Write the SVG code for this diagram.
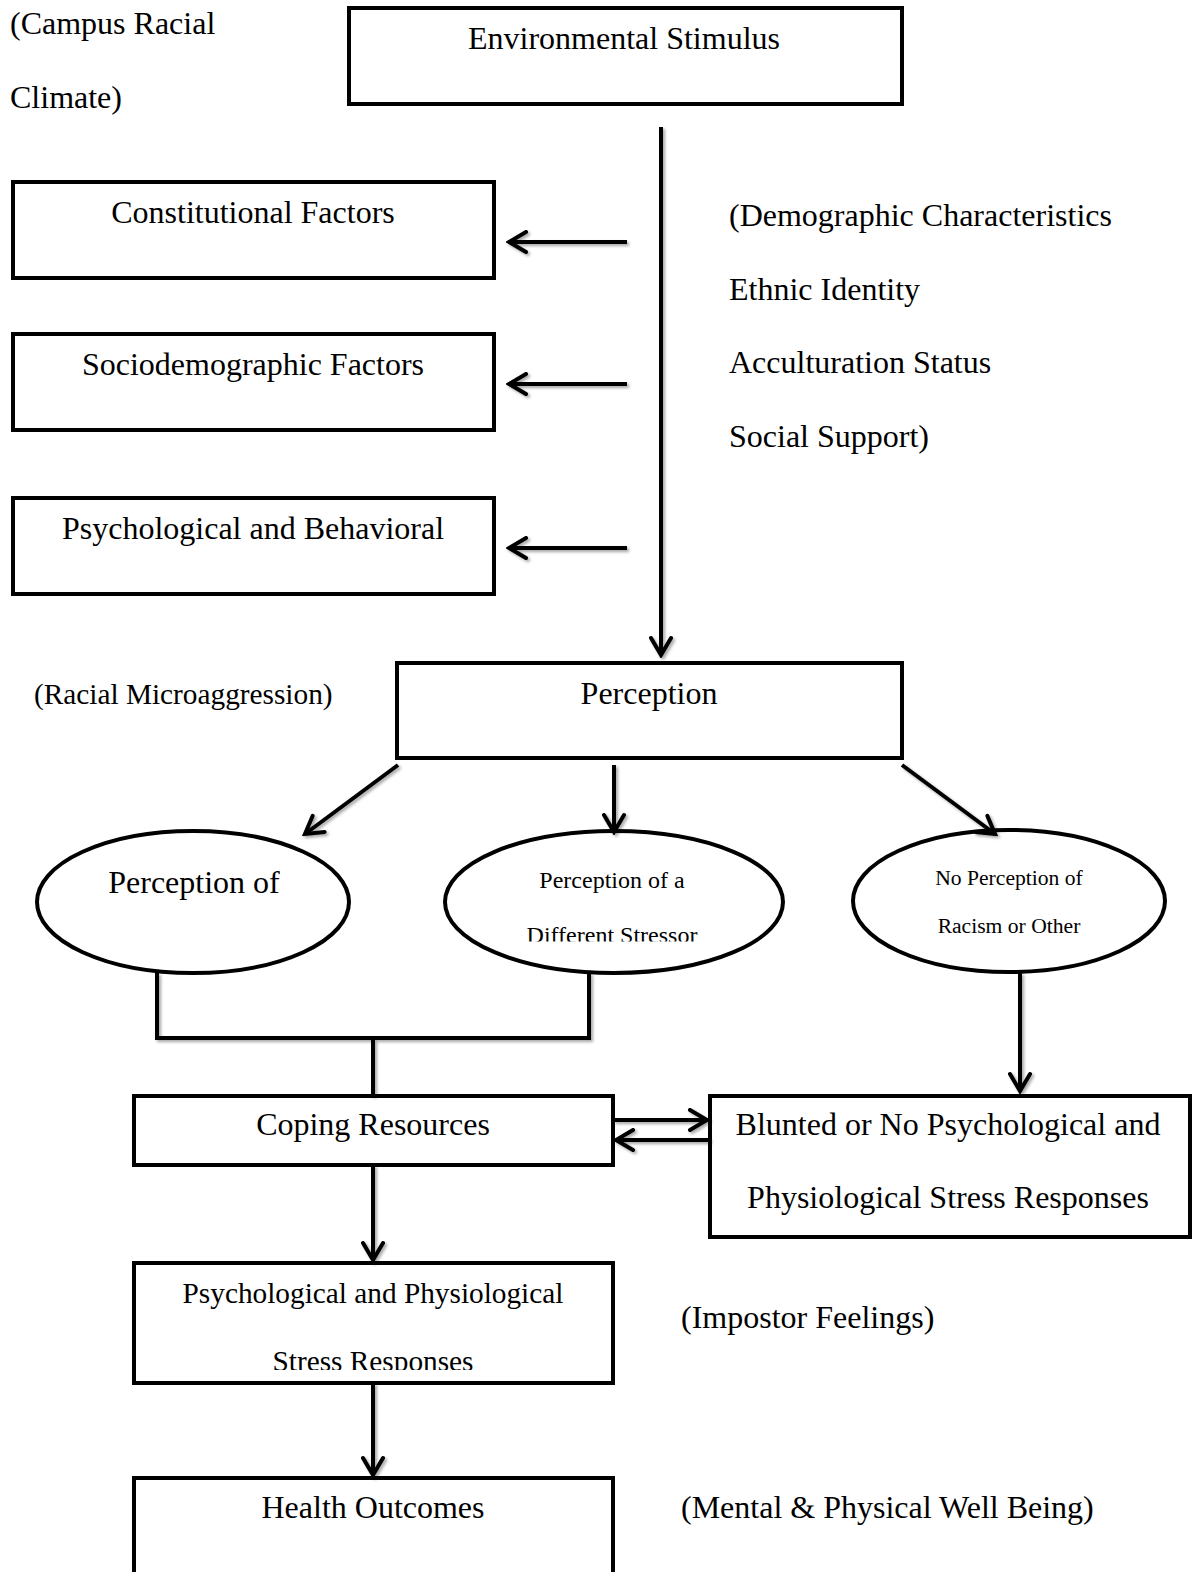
<svg xmlns="http://www.w3.org/2000/svg" width="1192" height="1572" viewBox="0 0 1192 1572">
<style>
  text { font-family: "Liberation Serif", "Times New Roman", serif; fill: #000; }
  .t { font-size: 32px; }
  .m { font-size: 29.3px; }
  .c { text-anchor: middle; }
  .s1 { font-size: 24px; }
  .s2 { font-size: 21.6px; }
  .box { fill: #fff; stroke: #000; stroke-width: 4; }
  .conn { fill: none; stroke: #000; stroke-width: 4; }
</style>
<defs>
  <marker id="arr" viewBox="0 0 24 24" markerWidth="24" markerHeight="24" refX="21" refY="12" orient="auto" markerUnits="userSpaceOnUse">
    <path d="M4,2 L21,12 L4,22" fill="none" stroke="#000" stroke-width="4" stroke-linecap="round" stroke-linejoin="miter"/>
  </marker>
  <filter id="sh" x="-20%" y="-20%" width="140%" height="140%">
    <feDropShadow dx="2" dy="2" stdDeviation="1.5" flood-color="#000" flood-opacity="0.35"/>
  </filter>
  <clipPath id="clipMid"><rect x="440" y="820" width="360" height="121.5"/></clipPath>
  <clipPath id="clipPsy"><rect x="135" y="1262" width="476" height="108"/></clipPath>
</defs>

<rect width="1192" height="1572" fill="#fff"/>

<g id="label-campus">
  <text class="t" x="10" y="34">(Campus Racial</text>
  <text class="t" x="10" y="108">Climate)</text>
</g>

<g id="env">
  <rect class="box" x="349" y="8" width="553" height="96"/>
  <text class="t c" x="624" y="49">Environmental Stimulus</text>
</g>

<g id="constitutional">
  <rect class="box" x="13" y="182" width="481" height="96"/>
  <text class="t c" x="253" y="223">Constitutional Factors</text>
</g>

<g id="sociodemographic">
  <rect class="box" x="13" y="334" width="481" height="96"/>
  <text class="t c" x="253" y="375">Sociodemographic Factors</text>
</g>

<g id="psychbehav">
  <rect class="box" x="13" y="498" width="481" height="96"/>
  <text class="t c" x="253" y="539">Psychological and Behavioral</text>
</g>

<g id="moderators">
  <text class="t" x="729" y="226">(Demographic Characteristics</text>
  <text class="t" x="729" y="300">Ethnic Identity</text>
  <text class="t" x="729" y="373">Acculturation Status</text>
  <text class="t" x="729" y="447">Social Support)</text>
</g>

<g id="label-racial">
  <text class="m" x="34" y="704">(Racial Microaggression)</text>
</g>

<g id="perception">
  <rect class="box" x="397" y="663" width="505" height="95"/>
  <text class="t c" x="649" y="704">Perception</text>
</g>

<g id="perc-racism">
  <ellipse class="box" cx="193" cy="902" rx="156" ry="71"/>
  <text class="t c" x="194" y="893">Perception of</text>
</g>

<g id="perc-different">
  <ellipse class="box" cx="614" cy="902" rx="169" ry="71"/>
  <g clip-path="url(#clipMid)">
    <text class="s1 c" x="612" y="888">Perception of a</text>
    <text class="s1 c" x="612" y="943">Different Stressor</text>
  </g>
</g>

<g id="no-perc">
  <ellipse class="box" cx="1009" cy="901" rx="156" ry="71"/>
  <text class="s2 c" x="1009" y="885">No Perception of</text>
  <text class="s2 c" x="1009" y="933">Racism or Other</text>
</g>

<g id="coping">
  <rect class="box" x="134" y="1096" width="479" height="69"/>
  <text class="t c" x="373" y="1135">Coping Resources</text>
</g>

<g id="blunted">
  <rect class="box" x="710" y="1096" width="480" height="141"/>
  <text class="t c" x="948" y="1135">Blunted or No Psychological and</text>
  <text class="t c" x="948" y="1208">Physiological Stress Responses</text>
</g>

<g id="stress">
  <rect class="box" x="134" y="1263" width="479" height="120"/>
  <g clip-path="url(#clipPsy)">
    <text class="m c" x="373" y="1303">Psychological and Physiological</text>
    <text class="m c" x="373" y="1371">Stress Responses</text>
  </g>
</g>

<g id="label-impostor">
  <text class="t" x="681" y="1328">(Impostor Feelings)</text>
</g>

<g id="health">
  <rect class="box" x="134" y="1478" width="479" height="110"/>
  <text class="t c" x="373" y="1518">Health Outcomes</text>
</g>

<g id="label-wellbeing">
  <text class="t" x="681" y="1518">(Mental &amp; Physical Well Being)</text>
</g>

<g id="connectors" filter="url(#sh)">
  <line class="conn" x1="661" y1="127" x2="661" y2="655" marker-end="url(#arr)"/>
  <line class="conn" x1="627" y1="242" x2="509" y2="242" marker-end="url(#arr)"/>
  <line class="conn" x1="627" y1="384" x2="509" y2="384" marker-end="url(#arr)"/>
  <line class="conn" x1="627" y1="548" x2="509" y2="548" marker-end="url(#arr)"/>
  <line class="conn" x1="398" y1="765" x2="305" y2="834" marker-end="url(#arr)"/>
  <line class="conn" x1="614" y1="765" x2="614" y2="832" marker-end="url(#arr)"/>
  <line class="conn" x1="902" y1="765" x2="995" y2="834" marker-end="url(#arr)"/>
  <path class="conn" d="M157,973 V1038 H589 V973"/>
  <line class="conn" x1="373" y1="1038" x2="373" y2="1096"/>
  <line class="conn" x1="1020" y1="973" x2="1020" y2="1091" marker-end="url(#arr)"/>
  <line class="conn" x1="613" y1="1120" x2="707" y2="1120" marker-end="url(#arr)"/>
  <line class="conn" x1="710" y1="1140" x2="616" y2="1140" marker-end="url(#arr)"/>
  <line class="conn" x1="373" y1="1165" x2="373" y2="1260" marker-end="url(#arr)"/>
  <line class="conn" x1="373" y1="1383" x2="373" y2="1475" marker-end="url(#arr)"/>
</g>
</svg>
